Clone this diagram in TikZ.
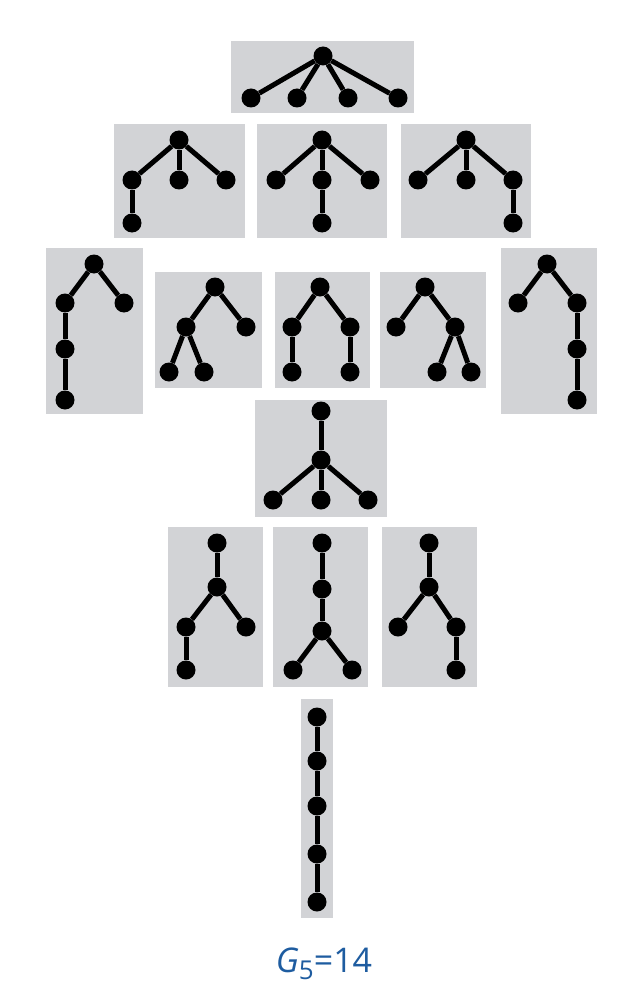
\documentclass[tikz,border=0pt]{standalone}
\usepackage{fontspec}
\setmainfont{Open Sans}
\definecolor{boxgray}{RGB}{210,211,214}
\definecolor{capblue}{RGB}{30,92,160}

\begin{document}
\begin{tikzpicture}[x=1pt, y=-1pt,
vtx/.style = {circle, fill=black, inner sep=0pt, minimum size=19pt},
edge/.style = {line width=5pt},
box/.style = {fill=boxgray}]
\useasboundingbox (0,0) rectangle (635,995);

% one root, four leaves
\begin{scope}
\fill[box] (231,41) rectangle (414,113);
\node[vtx] (r) at (323,56) {};
\node[vtx] (l1) at (251,98) {}; \node[vtx] (l2) at (297,98) {};
\node[vtx] (l3) at (348,98) {}; \node[vtx] (l4) at (398,98) {};
\draw[edge] (r) -- (l1); \draw[edge] (r) -- (l2);
\draw[edge] (r) -- (l3); \draw[edge] (r) -- (l4);
\end{scope}

% three children, one grandchild
\begin{scope}
\fill[box] (114,124) rectangle (245,238);
\node[vtx] (r) at (179,140) {};
\node[vtx] (c1) at (132,180) {}; \node[vtx] (c2) at (179,180) {};
\node[vtx] (c3) at (226,180) {}; \node[vtx] (g) at (132,223) {};
\draw[edge] (r) -- (c1); \draw[edge] (r) -- (c2);
\draw[edge] (r) -- (c3); \draw[edge] (c1) -- (g);
\end{scope}

\begin{scope}
\fill[box] (257,124) rectangle (387,238);
\node[vtx] (r) at (322,140) {};
\node[vtx] (c1) at (276,180) {}; \node[vtx] (c2) at (322,180) {};
\node[vtx] (c3) at (370,180) {}; \node[vtx] (g) at (322,223) {};
\draw[edge] (r) -- (c1); \draw[edge] (r) -- (c2);
\draw[edge] (r) -- (c3); \draw[edge] (c2) -- (g);
\end{scope}

\begin{scope}
\fill[box] (401,124) rectangle (531,238);
\node[vtx] (r) at (466,140) {};
\node[vtx] (c1) at (418,180) {}; \node[vtx] (c2) at (466,180) {};
\node[vtx] (c3) at (513,180) {}; \node[vtx] (g) at (513,223) {};
\draw[edge] (r) -- (c1); \draw[edge] (r) -- (c2);
\draw[edge] (r) -- (c3); \draw[edge] (c3) -- (g);
\end{scope}

% two children
\begin{scope}
\fill[box] (46,248) rectangle (143,414);
\node[vtx] (r) at (94,264) {};
\node[vtx] (c1) at (65,303) {}; \node[vtx] (c2) at (124,303) {};
\node[vtx] (g1) at (65,349) {}; \node[vtx] (g2) at (65,400) {};
\draw[edge] (r) -- (c1); \draw[edge] (r) -- (c2);
\draw[edge] (c1) -- (g1); \draw[edge] (g1) -- (g2);
\end{scope}

\begin{scope}
\fill[box] (155,272) rectangle (262,388);
\node[vtx] (r) at (215,287) {};
\node[vtx] (c1) at (186,327) {}; \node[vtx] (c2) at (246,327) {};
\node[vtx] (g1) at (169,372) {}; \node[vtx] (g2) at (204,372) {};
\draw[edge] (r) -- (c1); \draw[edge] (r) -- (c2);
\draw[edge] (c1) -- (g1); \draw[edge] (c1) -- (g2);
\end{scope}

\begin{scope}
\fill[box] (275,272) rectangle (370,388);
\node[vtx] (r) at (320,287) {};
\node[vtx] (c1) at (292,327) {}; \node[vtx] (c2) at (350,327) {};
\node[vtx] (g1) at (292,372) {}; \node[vtx] (g2) at (350,372) {};
\draw[edge] (r) -- (c1); \draw[edge] (r) -- (c2);
\draw[edge] (c1) -- (g1); \draw[edge] (c2) -- (g2);
\end{scope}

\begin{scope}
\fill[box] (380,272) rectangle (486,388);
\node[vtx] (r) at (425,287) {};
\node[vtx] (c1) at (396,327) {}; \node[vtx] (c2) at (455,327) {};
\node[vtx] (g1) at (437,372) {}; \node[vtx] (g2) at (471,372) {};
\draw[edge] (r) -- (c1); \draw[edge] (r) -- (c2);
\draw[edge] (c2) -- (g1); \draw[edge] (c2) -- (g2);
\end{scope}

\begin{scope}
\fill[box] (501,248) rectangle (597,414);
\node[vtx] (r) at (547,264) {};
\node[vtx] (c1) at (518,303) {}; \node[vtx] (c2) at (577,303) {};
\node[vtx] (g1) at (577,349) {}; \node[vtx] (g2) at (577,400) {};
\draw[edge] (r) -- (c1); \draw[edge] (r) -- (c2);
\draw[edge] (c2) -- (g1); \draw[edge] (g1) -- (g2);
\end{scope}

% one child
\begin{scope}
\fill[box] (255,400) rectangle (387,517);
\node[vtx] (r) at (321,411) {};
\node[vtx] (c) at (321,460) {};
\node[vtx] (l1) at (273,500) {}; \node[vtx] (l2) at (321,500) {};
\node[vtx] (l3) at (368,500) {};
\draw[edge] (r) -- (c); \draw[edge] (c) -- (l1);
\draw[edge] (c) -- (l2); \draw[edge] (c) -- (l3);
\end{scope}

\begin{scope}
\fill[box] (168,527) rectangle (263,687);
\node[vtx] (r) at (217,543) {}; \node[vtx] (c) at (217,587) {};
\node[vtx] (c1) at (186,627) {}; \node[vtx] (c2) at (246,627) {};
\node[vtx] (g) at (186,670) {};
\draw[edge] (r) -- (c); \draw[edge] (c) -- (c1);
\draw[edge] (c) -- (c2); \draw[edge] (c1) -- (g);
\end{scope}

\begin{scope}
\fill[box] (273,527) rectangle (368,687);
\node[vtx] (r) at (322,543) {}; \node[vtx] (m) at (322,589) {};
\node[vtx] (c) at (322,631) {};
\node[vtx] (l1) at (293,670) {}; \node[vtx] (l2) at (352,670) {};
\draw[edge] (r) -- (m); \draw[edge] (m) -- (c);
\draw[edge] (c) -- (l1); \draw[edge] (c) -- (l2);
\end{scope}

\begin{scope}
\fill[box] (382,527) rectangle (477,687);
\node[vtx] (r) at (429,543) {}; \node[vtx] (c) at (429,587) {};
\node[vtx] (c1) at (398,627) {}; \node[vtx] (c2) at (456,627) {};
\node[vtx] (g) at (456,670) {};
\draw[edge] (r) -- (c); \draw[edge] (c) -- (c1);
\draw[edge] (c) -- (c2); \draw[edge] (c2) -- (g);
\end{scope}

% path
\begin{scope}
\fill[box] (301,699) rectangle (333,918);
\node[vtx] (p1) at (317,717) {}; \node[vtx] (p2) at (317,761) {};
\node[vtx] (p3) at (317,806) {}; \node[vtx] (p4) at (317,854) {};
\node[vtx] (p5) at (317,902) {};
\draw[edge] (p1) -- (p2); \draw[edge] (p2) -- (p3);
\draw[edge] (p3) -- (p4); \draw[edge] (p4) -- (p5);
\end{scope}

\node[text=capblue, font=\fontsize{34}{38}\selectfont] (cap) at (324,964)
  {\textit{G}\raisebox{-0.2em}{\fontsize{26}{28}\selectfont 5}=14};
\end{tikzpicture}
\end{document}
